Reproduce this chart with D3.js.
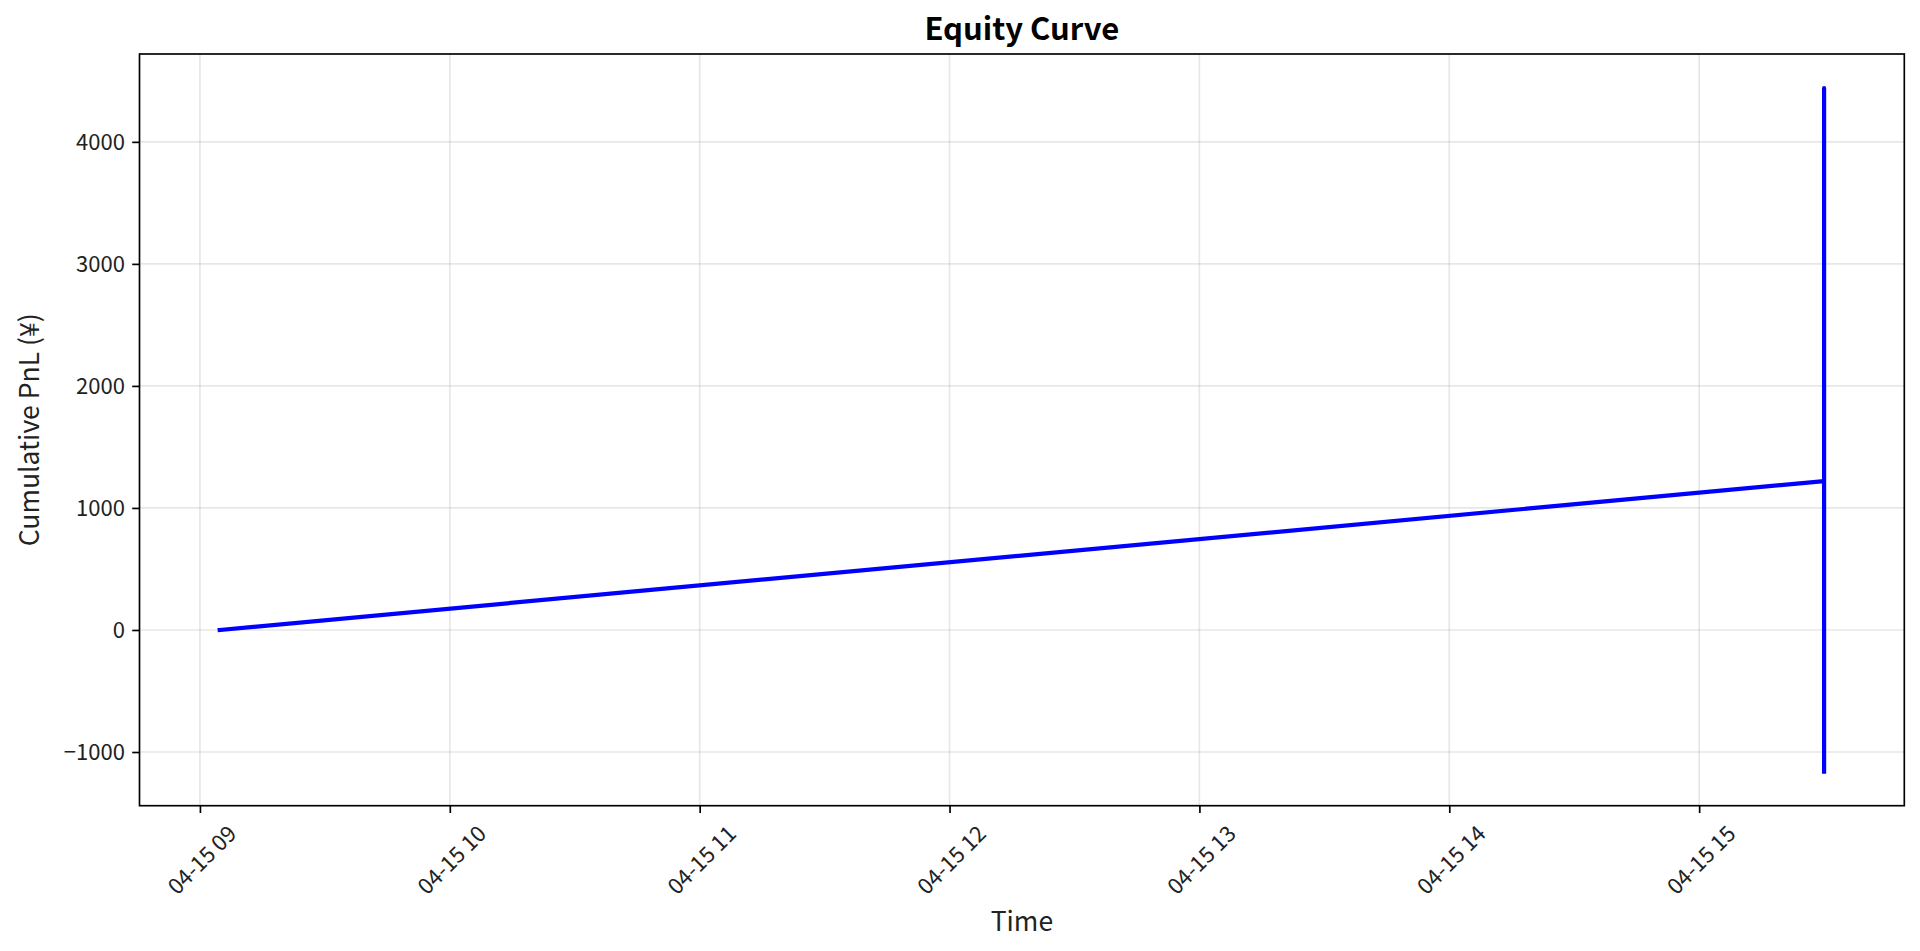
<!DOCTYPE html>
<html>
<head>
<meta charset="utf-8">
<script src="https://cdn.jsdelivr.net/npm/d3@7"></script>
<style>
  html, body { margin: 0; padding: 0; background: #fff; }
  text { font-family: "Noto Sans CJK JP", "Noto Sans", sans-serif; }
</style>
</head>
<body>
<svg id="chart"></svg>
<script>
// Equity curve data
const times = ["2025-04-15 09:04:45", "2025-04-15 15:30:00", "2025-04-15 15:30:00", "2025-04-15 15:30:00"];
const pnl = [0, 1220, 4440, -1160];
const yTicks = [-1000, 0, 1000, 2000, 3000, 4000];
const xTickHours = ["2025-04-15 09:00", "2025-04-15 10:00", "2025-04-15 11:00", "2025-04-15 12:00",
                    "2025-04-15 13:00", "2025-04-15 14:00", "2025-04-15 15:00"];

const width = 1920;
const height = 951;
const margin = { top: 54, right: 1920 - 1904.3, bottom: 951 - 805.7, left: 139.5 };
const innerW = width - margin.left - margin.right;
const innerH = height - margin.top - margin.bottom;

const parse = d3.timeParse("%Y-%m-%d %H:%M:%S");
const parseTick = d3.timeParse("%Y-%m-%d %H:%M");
const data = times.map((t, i) => ({ t: parse(t), v: pnl[i] }));

// matplotlib-like 5% margins
const tExt = d3.extent(data, d => d.t);
const tPad = (tExt[1] - tExt[0]) * 0.05;
const vExt = d3.extent(data, d => d.v);
const vPad = (vExt[1] - vExt[0]) * 0.05;

const x = d3.scaleTime()
    .domain([new Date(+tExt[0] - tPad), new Date(+tExt[1] + tPad)])
    .range([margin.left, margin.left + innerW]);
const y = d3.scaleLinear()
    .domain([vExt[0] - vPad, vExt[1] + vPad])
    .range([margin.top + innerH, margin.top]);

const svg = d3.select("#chart")
    .attr("width", width)
    .attr("height", height);

const xTicks = xTickHours.map(parseTick);
const tickFont = 22;

// Grid
svg.append("g")
    .selectAll("line.gx")
    .data(xTicks)
    .enter().append("line")
    .attr("x1", d => x(d)).attr("x2", d => x(d))
    .attr("y1", margin.top).attr("y2", margin.top + innerH)
    .attr("stroke", "#b0b0b0").attr("stroke-opacity", 0.3).attr("stroke-width", 1.67);
svg.append("g")
    .selectAll("line.gy")
    .data(yTicks)
    .enter().append("line")
    .attr("x1", margin.left).attr("x2", margin.left + innerW)
    .attr("y1", d => y(d)).attr("y2", d => y(d))
    .attr("stroke", "#b0b0b0").attr("stroke-opacity", 0.3).attr("stroke-width", 1.67);

// Line
const line = d3.line()
    .x(d => x(d.t))
    .y(d => y(d.v));
svg.append("path")
    .datum(data)
    .attr("d", line)
    .attr("fill", "none")
    .attr("stroke", "#0000ff")
    .attr("stroke-width", 4.2)
    .attr("stroke-linecap", "square")
    .attr("stroke-linejoin", "round");

// Y axis
const yAxis = svg.append("g")
    .attr("transform", `translate(${margin.left},0)`)
    .call(d3.axisLeft(y).tickValues(yTicks).tickSize(7.3).tickPadding(7.3).tickFormat(d3.format("d")));
yAxis.select(".domain").remove();
yAxis.selectAll(".tick line").attr("stroke", "#000").attr("stroke-width", 1.67);
yAxis.selectAll(".tick text")
    .attr("font-size", tickFont)
    .attr("fill", "#222")
    .attr("dy", "0.35em")
    .text(d => d < 0 ? "\u2212" + Math.abs(d) : String(d));

// X axis
const xAxis = svg.append("g")
    .attr("transform", `translate(0,${margin.top + innerH})`)
    .call(d3.axisBottom(x).tickValues(xTicks).tickSize(7.3).tickFormat(d3.timeFormat("%m-%d %H")));
xAxis.select(".domain").remove();
xAxis.selectAll(".tick line").attr("stroke", "#000").attr("stroke-width", 1.67);
xAxis.selectAll(".tick text")
    .attr("font-size", tickFont)
    .attr("fill", "#222")
    .attr("y", 0)
    .attr("dy", null)
    .attr("text-anchor", "middle")
    .attr("dominant-baseline", "central")
    .each(function() {
        const w = this.getComputedTextLength();
        const s = (w + tickFont * 1.0) / Math.SQRT2;
        const cy = 14.6 + s / 2;
        d3.select(this).attr("transform", `translate(0,${cy}) rotate(-45)`);
    });

// Frame
svg.append("rect")
    .attr("x", margin.left).attr("y", margin.top)
    .attr("width", innerW).attr("height", innerH)
    .attr("fill", "none").attr("stroke", "#000").attr("stroke-width", 1.67);

// Labels
svg.append("text")
    .attr("x", margin.left + innerW / 2)
    .attr("y", 40)
    .attr("text-anchor", "middle")
    .attr("font-size", 31)
    .attr("font-weight", "bold")
    .attr("fill", "#000")
    .text("Equity Curve");

svg.append("text")
    .attr("x", margin.left + innerW / 2)
    .attr("y", 931)
    .attr("text-anchor", "middle")
    .attr("font-size", 26.5)
    .attr("fill", "#222")
    .text("Time");

svg.append("text")
    .attr("transform", `translate(39,${margin.top + innerH / 2}) rotate(-90)`)
    .attr("text-anchor", "middle")
    .attr("font-size", 26.5)
    .attr("fill", "#222")
    .text("Cumulative PnL (¥)");
</script>
</body>
</html>
